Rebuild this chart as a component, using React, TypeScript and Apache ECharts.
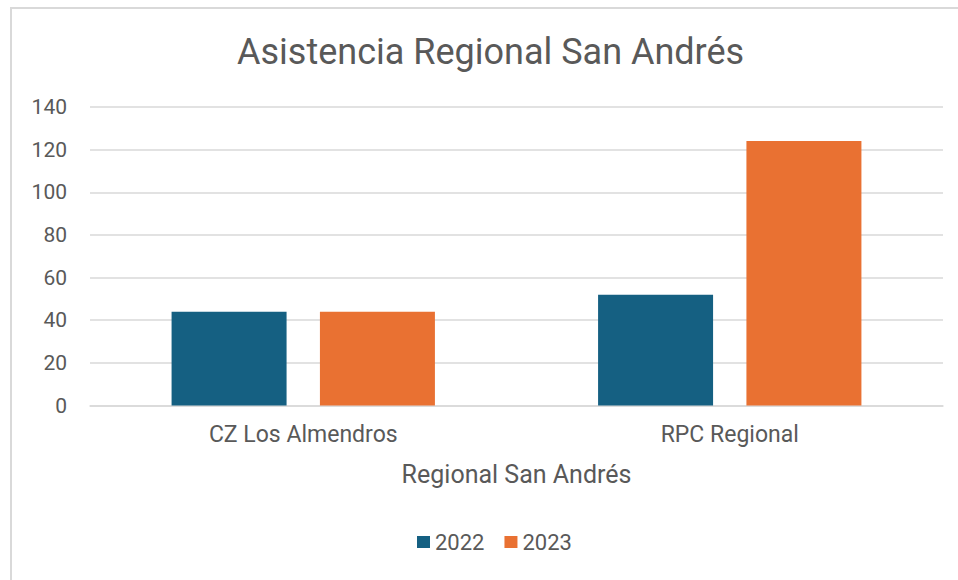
import React, { useEffect, useRef } from "react";
import * as echarts from "echarts";

const categories = ["CZ Los Almendros", "RPC Regional"];
const series2022 = [44, 52];
const series2023 = [44, 124];
const seriesNames = ["2022", "2023"];

export default function App() {
  const ref = useRef<HTMLDivElement>(null);
  useEffect(() => {
    if (!ref.current) return;
    const chart = echarts.init(ref.current, null, { renderer: "svg" });
    const font = "Roboto, 'Noto Sans', sans-serif";
    chart.setOption({
      animation: false,
      backgroundColor: "#ffffff",
      textStyle: { fontFamily: font },
      title: {
        text: "Asistencia Regional San Andrés",
        left: 232,
        top: 29,
        textStyle: { fontSize: 36, fontWeight: "normal", color: "#595959", fontFamily: font },
      },
      graphic: [
        {
          type: "rect",
          shape: { x: 11, y: 8, width: 1200, height: 1200 },
          style: { fill: "none", stroke: "#d9d9d9", lineWidth: 2 },
          silent: true,
        },
      ],
      legend: {
        data: seriesNames,
        bottom: 22,
        left: 412,
        itemWidth: 13,
        itemHeight: 12,
        itemGap: 20,
        icon: "rect",
        textStyle: { fontSize: 22, color: "#595959", fontFamily: font },
      },
      grid: { left: 90, right: 15, top: 107, bottom: 174.5, containLabel: false },
      xAxis: {
        type: "category",
        data: categories,
        name: "Regional San Andrés",
        nameLocation: "middle",
        nameGap: 56,
        nameTextStyle: { fontSize: 25, color: "#595959", fontFamily: font },
        axisLine: { lineStyle: { color: "#d9d9d9", width: 1.5 } },
        axisTick: { show: false },
        axisLabel: { fontSize: 23, color: "#595959", margin: 17, fontFamily: font },
      },
      yAxis: {
        type: "value",
        min: 0,
        max: 140,
        interval: 20,
        axisLine: { show: false },
        axisTick: { show: false },
        axisLabel: { fontSize: 21, color: "#595959", margin: 23, fontFamily: font },
        splitLine: { lineStyle: { color: "#d9d9d9", width: 1.5 } },
      },
      series: [
        {
          name: seriesNames[0],
          type: "bar",
          data: series2022,
          barWidth: 115,
          barGap: "29%",
          itemStyle: { color: "#156082" },
        },
        {
          name: seriesNames[1],
          type: "bar",
          data: series2023,
          barWidth: 115,
          barGap: "29%",
          itemStyle: { color: "#E97132" },
        },
      ],
    });
    return () => chart.dispose();
  }, []);
  return (
    <div
      ref={ref}
      style={{ position: "fixed", left: 0, top: 0, width: 958, height: 580 }}
    />
  );
}
